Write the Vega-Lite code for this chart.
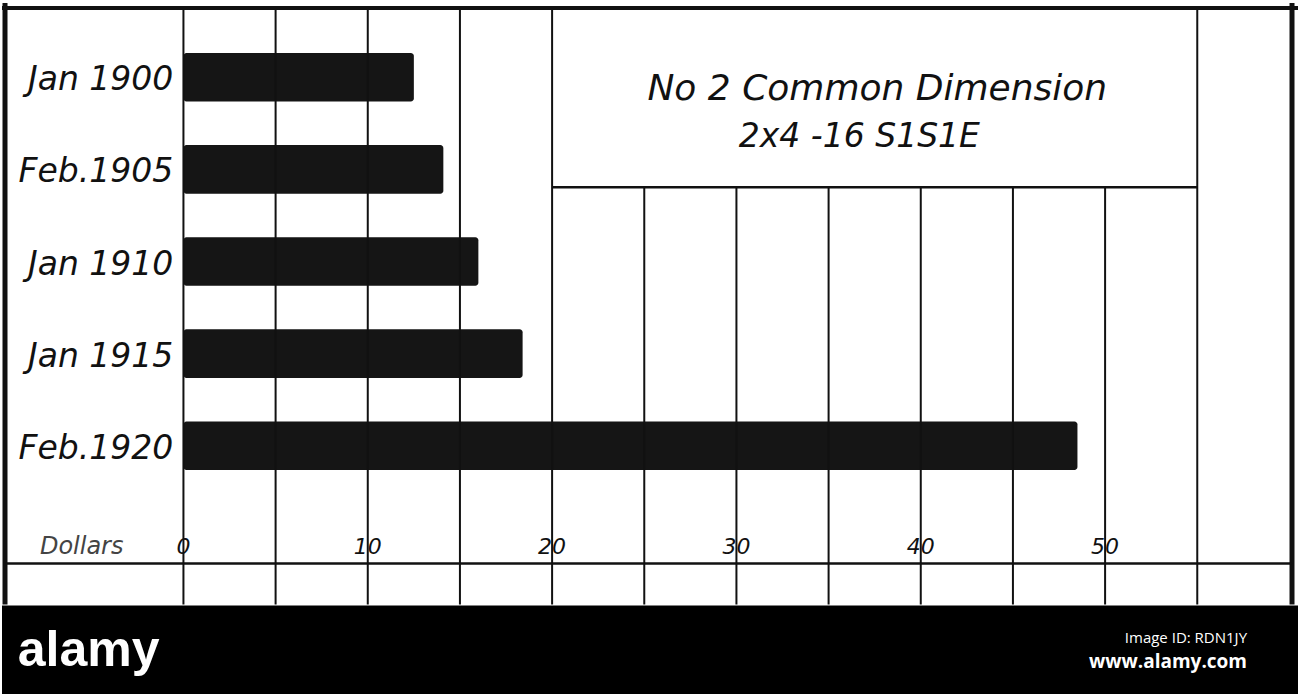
{
  "$schema": "https://vega.github.io/schema/vega-lite/v6.json",
  "width": 1300,
  "height": 694,
  "autosize": {"type": "fit", "contains": "padding"},
  "padding": 0,
  "background": "white",
  "config": {"view": {"stroke": null}},
  "datasets": {
    "prices": [
      {"period": "Jan 1900", "dollars": 12.5},
      {"period": "Feb.1905", "dollars": 14.1},
      {"period": "Jan 1910", "dollars": 16.0},
      {"period": "Jan 1915", "dollars": 18.4},
      {"period": "Feb.1920", "dollars": 48.5}
    ],
    "grid": [
      {"v": 0}, {"v": 5}, {"v": 10}, {"v": 15}, {"v": 20}, {"v": 25},
      {"v": 30}, {"v": 35}, {"v": 40}, {"v": 45}, {"v": 50}, {"v": 55}
    ],
    "one": [{}]
  },
  "layer": [
    {
      "data": {"name": "prices"},
      "layer": [
        {
          "mark": {"type": "bar", "color": "#151515", "cornerRadius": 3},
          "encoding": {
            "y": {"field": "period", "type": "nominal", "sort": null, "axis": null,
                  "scale": {"range": [50, 467], "paddingInner": 0.473, "paddingOuter": 0}},
            "x": {"field": "dollars", "type": "quantitative", "axis": null,
                  "scale": {"domain": [-9.843, 60.465], "nice": false, "zero": false}},
            "x2": {"datum": 0}
          }
        },
        {
          "mark": {"type": "text", "align": "right", "baseline": "alphabetic", "dy": 13,
                   "font": "DejaVu Sans", "fontStyle": "italic", "fontSize": 33, "color": "#111"},
          "encoding": {
            "y": {"field": "period", "type": "nominal", "sort": null, "axis": null},
            "x": {"datum": -0.55, "axis": null,
                  "scale": {"domain": [-9.843, 60.465], "nice": false, "zero": false}},
            "text": {"field": "period"}
          }
        }
      ]
    },
    {
      "layer": [
        {
          "data": {"name": "grid"},
          "transform": [{"filter": "datum.v <= 20 || datum.v == 55"}],
          "mark": {"type": "rule", "color": "#111", "strokeWidth": 2},
          "encoding": {
            "x": {"field": "v", "type": "quantitative", "axis": null,
                  "scale": {"domain": [-9.843, 60.465], "nice": false, "zero": false}},
            "y": {"datum": 5, "axis": null, "scale": {"domain": [0, 694], "reverse": true, "nice": false, "zero": false}},
            "y2": {"datum": 604}
          }
        },
        {
          "data": {"name": "grid"},
          "transform": [{"filter": "datum.v > 20 && datum.v < 55"}],
          "mark": {"type": "rule", "color": "#111", "strokeWidth": 2},
          "encoding": {
            "x": {"field": "v", "type": "quantitative", "axis": null,
                  "scale": {"domain": [-9.843, 60.465], "nice": false, "zero": false}},
            "y": {"datum": 185, "axis": null, "scale": {"domain": [0, 694], "reverse": true, "nice": false, "zero": false}},
            "y2": {"datum": 604}
          }
        },
        {
          "data": {"name": "one"},
          "mark": {"type": "rule", "color": "#111", "strokeWidth": 5},
          "encoding": {
            "x": {"datum": -9.68, "axis": null, "scale": {"domain": [-9.843, 60.465], "nice": false, "zero": false}},
            "y": {"datum": 0, "axis": null, "scale": {"domain": [0, 694], "reverse": true, "nice": false, "zero": false}},
            "y2": {"datum": 604}
          }
        },
        {
          "data": {"name": "one"},
          "mark": {"type": "rule", "color": "#111", "strokeWidth": 5},
          "encoding": {
            "x": {"datum": 60.14, "axis": null, "scale": {"domain": [-9.843, 60.465], "nice": false, "zero": false}},
            "y": {"datum": 0, "axis": null, "scale": {"domain": [0, 694], "reverse": true, "nice": false, "zero": false}},
            "y2": {"datum": 604}
          }
        },
        {
          "data": {"name": "one"},
          "mark": {"type": "rule", "color": "#111", "strokeWidth": 4},
          "encoding": {
            "x": {"datum": -9.843, "axis": null, "scale": {"domain": [-9.843, 60.465], "nice": false, "zero": false}},
            "x2": {"datum": 60.465},
            "y": {"datum": 5, "axis": null, "scale": {"domain": [0, 694], "reverse": true, "nice": false, "zero": false}}
          }
        },
        {
          "data": {"name": "one"},
          "mark": {"type": "rule", "color": "#111", "strokeWidth": 2.5},
          "encoding": {
            "x": {"datum": 20, "axis": null, "scale": {"domain": [-9.843, 60.465], "nice": false, "zero": false}},
            "x2": {"datum": 55},
            "y": {"datum": 185, "axis": null, "scale": {"domain": [0, 694], "reverse": true, "nice": false, "zero": false}}
          }
        },
        {
          "data": {"name": "one"},
          "mark": {"type": "rule", "color": "#111", "strokeWidth": 2.5},
          "encoding": {
            "x": {"datum": -9.68, "axis": null, "scale": {"domain": [-9.843, 60.465], "nice": false, "zero": false}},
            "x2": {"datum": 60.14},
            "y": {"datum": 563, "axis": null, "scale": {"domain": [0, 694], "reverse": true, "nice": false, "zero": false}}
          }
        },
        {
          "data": {"name": "grid"},
          "transform": [{"filter": "datum.v % 10 == 0 && datum.v <= 50"}],
          "mark": {"type": "text", "align": "center", "baseline": "alphabetic",
                   "font": "DejaVu Sans", "fontStyle": "italic", "fontSize": 22, "color": "#111"},
          "encoding": {
            "x": {"field": "v", "type": "quantitative", "axis": null,
                  "scale": {"domain": [-9.843, 60.465], "nice": false, "zero": false}},
            "y": {"datum": 553, "axis": null, "scale": {"domain": [0, 694], "reverse": true, "nice": false, "zero": false}},
            "text": {"field": "v", "type": "quantitative"}
          }
        },
        {
          "data": {"name": "one"},
          "mark": {"type": "text", "text": "Dollars", "align": "center", "baseline": "alphabetic",
                   "font": "DejaVu Sans", "fontStyle": "italic", "fontSize": 24, "color": "#444"},
          "encoding": {
            "x": {"datum": -5.52, "axis": null, "scale": {"domain": [-9.843, 60.465], "nice": false, "zero": false}},
            "y": {"datum": 553, "axis": null, "scale": {"domain": [0, 694], "reverse": true, "nice": false, "zero": false}}
          }
        },
        {
          "data": {"name": "one"},
          "mark": {"type": "text", "text": "No 2 Common Dimension", "align": "center", "baseline": "alphabetic",
                   "font": "DejaVu Sans", "fontStyle": "italic", "fontSize": 36, "color": "#111"},
          "encoding": {
            "x": {"datum": 37.64, "axis": null, "scale": {"domain": [-9.843, 60.465], "nice": false, "zero": false}},
            "y": {"datum": 97, "axis": null, "scale": {"domain": [0, 694], "reverse": true, "nice": false, "zero": false}}
          }
        },
        {
          "data": {"name": "one"},
          "mark": {"type": "text", "text": "2x4 -16 S1S1E", "align": "center", "baseline": "alphabetic",
                   "font": "DejaVu Sans", "fontStyle": "italic", "fontSize": 33, "color": "#111"},
          "encoding": {
            "x": {"datum": 36.67, "axis": null, "scale": {"domain": [-9.843, 60.465], "nice": false, "zero": false}},
            "y": {"datum": 145, "axis": null, "scale": {"domain": [0, 694], "reverse": true, "nice": false, "zero": false}}
          }
        },
        {
          "data": {"name": "one"},
          "mark": {"type": "rect", "color": "#000000"},
          "encoding": {
            "x": {"datum": -9.843, "axis": null, "scale": {"domain": [-9.843, 60.465], "nice": false, "zero": false}},
            "x2": {"datum": 60.465},
            "y": {"datum": 605, "axis": null, "scale": {"domain": [0, 694], "reverse": true, "nice": false, "zero": false}},
            "y2": {"datum": 694}
          }
        },
        {
          "data": {"name": "one"},
          "mark": {"type": "text", "text": "alamy", "align": "center", "baseline": "alphabetic",
                   "font": "Liberation Sans", "fontWeight": "bold", "fontSize": 50, "color": "white"},
          "encoding": {
            "x": {"datum": -5.14, "axis": null, "scale": {"domain": [-9.843, 60.465], "nice": false, "zero": false}},
            "y": {"datum": 666, "axis": null, "scale": {"domain": [0, 694], "reverse": true, "nice": false, "zero": false}}
          }
        },
        {
          "data": {"name": "one"},
          "mark": {"type": "text", "text": "Image ID: RDN1JY", "align": "right", "baseline": "alphabetic",
                   "font": "Open Sans", "fontSize": 15, "color": "white"},
          "encoding": {
            "x": {"datum": 57.7, "axis": null, "scale": {"domain": [-9.843, 60.465], "nice": false, "zero": false}},
            "y": {"datum": 643, "axis": null, "scale": {"domain": [0, 694], "reverse": true, "nice": false, "zero": false}}
          }
        },
        {
          "data": {"name": "one"},
          "mark": {"type": "text", "text": "www.alamy.com", "align": "right", "baseline": "alphabetic",
                   "font": "Open Sans", "fontWeight": "bold", "fontSize": 19, "color": "white"},
          "encoding": {
            "x": {"datum": 57.7, "axis": null, "scale": {"domain": [-9.843, 60.465], "nice": false, "zero": false}},
            "y": {"datum": 668, "axis": null, "scale": {"domain": [0, 694], "reverse": true, "nice": false, "zero": false}}
          }
        }
      ]
    }
  ],
  "resolve": {"scale": {"y": "independent"}}
}
